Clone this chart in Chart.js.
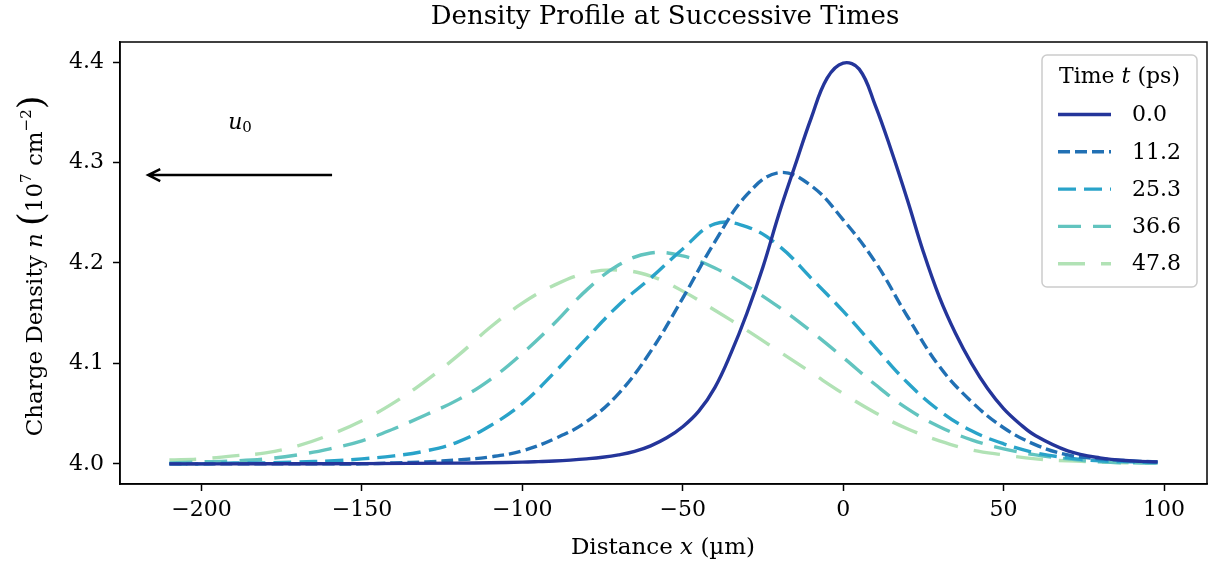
<!DOCTYPE html>
<html>
<head>
<meta charset="utf-8">
<script src="https://cdn.jsdelivr.net/npm/chart.js@4"></script>
<style>
  html, body { margin: 0; padding: 0; background: #fff; }
  canvas { display: block; }
</style>
</head>
<body>
<canvas id="myChart" width="1225" height="570"></canvas>
<script>
// positions along the channel (µm)
const xFine = [-210, -180, -150, -120, -110, -100, -95, -90, -85, -80, -75, -70, -65, -60, -55, -50, -45, -40, -35,
  -30, -25, -20, -15, -10, -5, 0, 5, 10, 15, 20, 25, 30, 35, 40, 45, 50, 55, 60, 70, 80, 90, 98];
const xCoarse = [-210, -200, -190, -180, -170, -160, -150, -140, -130, -120, -110, -100, -90, -80, -70, -60,
  -50, -40, -30, -20, -10, 0, 10, 20, 30, 40, 50, 60, 70, 80, 90, 98];

const timeLabels = ['0.0', '11.2', '25.3', '36.6', '47.8'];

// density n (10^7 cm^-2)
const n0 = [4.0000, 4.0001, 4.0003, 4.0008, 4.0012, 4.0018, 4.0023, 4.0029, 4.0038, 4.0050, 4.0066, 4.0090, 4.0125,
  4.0180, 4.0260, 4.0370, 4.0525, 4.0760, 4.110, 4.150, 4.196, 4.249, 4.297, 4.344, 4.384, 4.399, 4.393, 4.357,
  4.312, 4.263, 4.211, 4.166, 4.130, 4.100, 4.075, 4.055, 4.040, 4.028, 4.013, 4.006, 4.003, 4.002];
const n1 = [4.000, 4.000, 4.000, 4.000, 4.000, 4.000, 4.000, 4.001, 4.002, 4.004, 4.007, 4.013, 4.025, 4.042, 4.070,
  4.112, 4.165, 4.221, 4.268, 4.290, 4.277, 4.243, 4.201, 4.147, 4.097, 4.062, 4.036, 4.019, 4.009, 4.005,
  4.003, 4.002];
const n2 = [4.000, 4.000, 4.001, 4.001, 4.002, 4.003, 4.005, 4.008, 4.013, 4.022, 4.038, 4.060, 4.091, 4.125, 4.158,
  4.185, 4.214, 4.239, 4.236, 4.217, 4.185, 4.152, 4.116, 4.081, 4.053, 4.033, 4.020, 4.011, 4.006, 4.003,
  4.002, 4.001];
const n3 = [4.001, 4.002, 4.003, 4.005, 4.009, 4.015, 4.023, 4.035, 4.049, 4.064, 4.084, 4.110, 4.140, 4.173, 4.198,
  4.210, 4.207, 4.195, 4.177, 4.156, 4.132, 4.106, 4.079, 4.055, 4.037, 4.024, 4.015, 4.009, 4.005, 4.002,
  4.001, 4.001];
const n4 = [4.004, 4.005, 4.008, 4.011, 4.018, 4.029, 4.043, 4.061, 4.083, 4.108, 4.136, 4.160, 4.178, 4.190, 4.193,
  4.187, 4.172, 4.153, 4.133, 4.112, 4.091, 4.070, 4.051, 4.035, 4.023, 4.014, 4.009, 4.005, 4.003, 4.002,
  4.001, 4.001];

const xTicks = [-200, -150, -100, -50, 0, 50, 100];
const yTicks = [4.0, 4.1, 4.2, 4.3, 4.4];

const colors = ['#24359a', '#2170b4', '#29a3c9', '#62c4bf', '#b1e2b5'];
const dashes = [[], [12, 5], [18, 8], [23, 12], [27, 16]];

const FONT = '"DejaVu Serif", "Liberation Serif", serif';
const FS = 22;

function pts(xs, ys) {
  return xs.map((x, i) => ({ x: x, y: ys[i] }));
}

function richWidth(ctx, parts) {
  let w = 0;
  parts.forEach(p => { ctx.font = p.f; w += ctx.measureText(p.t).width; });
  return w;
}

function drawRich(ctx, parts, cx, cy) {
  let x = cx - richWidth(ctx, parts) / 2;
  ctx.textAlign = 'left';
  ctx.textBaseline = 'middle';
  parts.forEach(p => {
    ctx.font = p.f;
    ctx.fillText(p.t, x, cy + (p.dy || 0));
    x += ctx.measureText(p.t).width;
  });
}

const extras = {
  id: 'extras',
  afterDraw(chart) {
    const ctx = chart.ctx;
    const ca = chart.chartArea;
    const xs = chart.scales.x, ys = chart.scales.y;
    const base = FS + 'px ' + FONT, ital = 'italic ' + FS + 'px ' + FONT, small = '15px ' + FONT;
    const lab = '23px ' + FONT, labI = 'italic 23px ' + FONT;
    ctx.save();
    ctx.fillStyle = '#000';
    ctx.strokeStyle = '#000';

    // frame
    ctx.lineWidth = 1.5;
    ctx.strokeRect(ca.left, ca.top, ca.right - ca.left, ca.bottom - ca.top);

    // title
    drawRich(ctx, [{ t: 'Density Profile at Successive Times', f: '26px ' + FONT }], 665, 17);

    // axis titles
    drawRich(ctx, [{ t: 'Distance ', f: lab }, { t: 'x', f: labI }, { t: ' (µm)', f: lab }], 663, 548);
    ctx.save();
    ctx.translate(36, 266);
    ctx.rotate(-Math.PI / 2);
    drawRich(ctx, [
      { t: 'Charge Density ', f: lab }, { t: 'n', f: labI }, { t: ' ', f: lab },
      { t: '(', f: '35px ' + FONT, dy: -2 }, { t: '10', f: lab }, { t: '7', f: small, dy: -9 },
      { t: ' cm', f: lab }, { t: '−2', f: small, dy: -9 }, { t: ')', f: '35px ' + FONT, dy: -2 }
    ], 0, 0);
    ctx.restore();

    // velocity arrow
    const ay = ys.getPixelForValue(4.2875);
    const ax0 = xs.getPixelForValue(-159.3), ax1 = xs.getPixelForValue(-216.6);
    ctx.lineWidth = 2.5;
    ctx.beginPath();
    ctx.moveTo(ax0, ay);
    ctx.lineTo(ax1, ay);
    ctx.moveTo(ax1 + 12, ay - 6);
    ctx.lineTo(ax1, ay);
    ctx.lineTo(ax1 + 12, ay + 6);
    ctx.stroke();
    drawRich(ctx, [{ t: 'u', f: ital }, { t: '0', f: small, dy: 5 }],
      xs.getPixelForValue(-188), ys.getPixelForValue(4.339));

    // legend
    const lx = 1042, ly = 55, lw = 155, lh = 232;
    ctx.beginPath();
    ctx.roundRect(lx, ly, lw, lh, 5);
    ctx.fillStyle = 'rgba(255,255,255,0.85)';
    ctx.fill();
    ctx.strokeStyle = '#cccccc';
    ctx.lineWidth = 1.5;
    ctx.stroke();
    ctx.fillStyle = '#000';
    drawRich(ctx, [{ t: 'Time ', f: base }, { t: 't', f: ital }, { t: ' (ps)', f: base }], lx + lw / 2, 77);
    chart.data.datasets.forEach((ds, i) => {
      const ry = 114.5 + i * 37.3;
      ctx.save();
      ctx.strokeStyle = ds.borderColor;
      ctx.lineWidth = ds.borderWidth;
      ctx.setLineDash(ds.borderDash);
      ctx.beginPath();
      ctx.moveTo(1058, ry);
      ctx.lineTo(1111, ry);
      ctx.stroke();
      ctx.restore();
      ctx.font = base;
      ctx.textAlign = 'left';
      ctx.textBaseline = 'middle';
      ctx.fillText(ds.label, 1132, ry + 1);
    });
    ctx.restore();
  }
};

const seriesX = [xFine, xCoarse, xCoarse, xCoarse, xCoarse];
const seriesY = [n0, n1, n2, n3, n4];

new Chart(document.getElementById('myChart'), {
  type: 'line',
  data: {
    datasets: seriesY.map((ys, i) => ({
      label: timeLabels[i],
      data: pts(seriesX[i], ys),
      borderColor: colors[i],
      borderWidth: 3.4,
      borderDash: dashes[i],
      pointRadius: 0,
      fill: false,
      tension: 0.4
    }))
  },
  options: {
    responsive: false,
    devicePixelRatio: 1,
    animation: false,
    layout: { padding: { left: 0, top: 42, right: 18, bottom: 0 } },
    plugins: {
      legend: { display: false },
      tooltip: { enabled: false }
    },
    scales: {
      x: {
        type: 'linear',
        min: -225.4,
        max: 113.4,
        afterBuildTicks: axis => { axis.ticks = xTicks.map(v => ({ value: v })); },
        afterFit: scale => { scale.height = 86; },
        ticks: {
          color: '#000',
          font: { family: FONT, size: FS },
          padding: 6,
          maxRotation: 0,
          callback: v => String(v).replace('-', '−')
        },
        grid: { drawOnChartArea: false, drawTicks: true, tickLength: 7, tickColor: '#000', tickWidth: 1.5 },
        border: { display: true, color: '#000', width: 1.5 }
      },
      y: {
        type: 'linear',
        min: 3.98,
        max: 4.42,
        afterBuildTicks: axis => { axis.ticks = yTicks.map(v => ({ value: v })); },
        afterFit: scale => { scale.width = 120; },
        ticks: {
          color: '#000',
          font: { family: FONT, size: FS },
          padding: 9,
          callback: v => Number(v).toFixed(1)
        },
        grid: { drawOnChartArea: false, drawTicks: true, tickLength: 7, tickColor: '#000', tickWidth: 1.5 },
        border: { display: true, color: '#000', width: 1.5 }
      }
    }
  },
  plugins: [extras]
});
</script>
</body>
</html>
